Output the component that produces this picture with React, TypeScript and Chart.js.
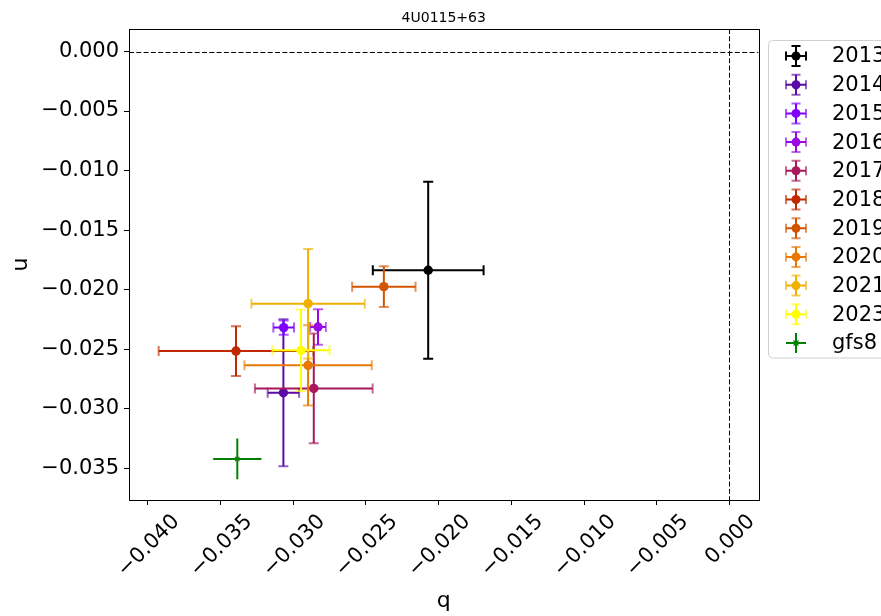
import React, { useEffect, useRef } from "react";
import { Chart, registerables } from "chart.js";

Chart.register(...registerables);

// ---------------- data ----------------
const chartTitle = "4U0115+63";
const xAxisLabel = "q";
const yAxisLabel = "u";

const seriesNames = ["2013", "2014", "2015", "2016", "2017", "2018", "2019", "2020", "2021", "2023", "gfs8"];
const qValues = [-0.02072, -0.03068, -0.03066, -0.0283, -0.02859, -0.03394, -0.02377, -0.02898, -0.02898, -0.02947, -0.03385];
const uValues = [-0.01837, -0.02866, -0.02319, -0.02314, -0.0283, -0.02516, -0.01975, -0.02636, -0.02118, -0.0251, -0.03422];
const qErrors = [0.00381, 0.00108, 0.00071, 0.00054, 0.00405, 0.00532, 0.00218, 0.00438, 0.0039, 0.00197, 0.00166];
const uErrors = [0.00743, 0.00617, 0.00059, 0.00149, 0.00461, 0.00209, 0.00171, 0.00337, 0.0046, 0.00342, 0.00171];
const seriesColors = [
  "#000000",
  "#5b0aa6",
  "#7f00ff",
  "#9a0ae2",
  "#a8185c",
  "#c02800",
  "#d35400",
  "#e87800",
  "#f0b000",
  "#ffff00",
  "#008000",
];
const seriesHasCaps = [true, true, true, true, true, true, true, true, true, true, false];

const xTickValues = [-0.04, -0.035, -0.03, -0.025, -0.02, -0.015, -0.01, -0.005, 0];
const xTickLabels = ["−0.040", "−0.035", "−0.030", "−0.025", "−0.020", "−0.015", "−0.010", "−0.005", "0.000"];
const yTickValues = [0, -0.005, -0.01, -0.015, -0.02, -0.025, -0.03, -0.035];
const yTickLabels = ["0.000", "−0.005", "−0.010", "−0.015", "−0.020", "−0.025", "−0.030", "−0.035"];

const xMin = -0.0413;
const xMax = 0.002;
const yMin = -0.03767;
const yMax = 0.00189;
const refLineQ = 0;
const refLineU = 0;

// ---------------- styling ----------------
const FONT = "'DejaVu Sans', sans-serif";
const W = 881;
const H = 616;
const CAP = 5;
const CAP_ALPHA = 0.65;

function withAlpha(hex: string, a: number) {
  const r = parseInt(hex.slice(1, 3), 16);
  const g = parseInt(hex.slice(3, 5), 16);
  const b = parseInt(hex.slice(5, 7), 16);
  return `rgba(${r},${g},${b},${a})`;
}

function drawErrorCross(
  ctx: CanvasRenderingContext2D,
  i: number,
  px: number,
  py: number,
  xl: number,
  xr: number,
  yt: number,
  yb: number,
  cap: number
) {
  const col = seriesColors[i];
  ctx.lineCap = "butt";
  ctx.lineWidth = 2;
  ctx.strokeStyle = col;
  ctx.beginPath();
  ctx.moveTo(xl, py);
  ctx.lineTo(xr, py);
  ctx.moveTo(px, yt);
  ctx.lineTo(px, yb);
  ctx.stroke();
  if (seriesHasCaps[i]) {
    ctx.strokeStyle = col === "#000000" ? col : withAlpha(col, CAP_ALPHA);
    ctx.beginPath();
    ctx.moveTo(xl, py - cap);
    ctx.lineTo(xl, py + cap);
    ctx.moveTo(xr, py - cap);
    ctx.lineTo(xr, py + cap);
    ctx.moveTo(px - cap, yt);
    ctx.lineTo(px + cap, yt);
    ctx.moveTo(px - cap, yb);
    ctx.lineTo(px + cap, yb);
    ctx.stroke();
  }
}

const errorBarPlugin = {
  id: "errorBars",
  beforeDatasetsDraw(chart: any) {
    const { ctx, chartArea: a, scales } = chart;
    const xs = scales.x;
    const ys = scales.y;
    ctx.save();
    ctx.beginPath();
    ctx.rect(a.left, a.top, a.right - a.left, a.bottom - a.top);
    ctx.clip();
    ctx.strokeStyle = "#000";
    ctx.lineWidth = 1;
    ctx.setLineDash([5, 2.3]);
    const y0 = Math.round(ys.getPixelForValue(refLineU)) + 0.5;
    ctx.beginPath();
    ctx.moveTo(a.left, y0);
    ctx.lineTo(a.right, y0);
    ctx.stroke();
    const x0 = Math.round(xs.getPixelForValue(refLineQ)) + 0.5;
    ctx.beginPath();
    ctx.moveTo(x0, a.top);
    ctx.lineTo(x0, a.bottom);
    ctx.stroke();
    ctx.restore();
  },
  beforeDatasetDraw(chart: any, args: any) {
    const i = args.index;
    const { ctx, chartArea: a, scales } = chart;
    const xs = scales.x;
    const ys = scales.y;
    const q = qValues[i];
    const u = uValues[i];
    const px = xs.getPixelForValue(q);
    const py = ys.getPixelForValue(u);
    const xl = xs.getPixelForValue(q - qErrors[i]);
    const xr = xs.getPixelForValue(q + qErrors[i]);
    const yt = ys.getPixelForValue(u + uErrors[i]);
    const yb = ys.getPixelForValue(u - uErrors[i]);
    ctx.save();
    ctx.beginPath();
    ctx.rect(a.left, a.top, a.right - a.left, a.bottom - a.top);
    ctx.clip();
    drawErrorCross(ctx, i, px, py, xl, xr, yt, yb, CAP);
    ctx.restore();
  },
  afterDraw(chart: any) {
    const { ctx, chartArea: a, scales } = chart;
    const xs = scales.x;
    ctx.save();
    // frame
    ctx.strokeStyle = "#000";
    ctx.lineWidth = 1;
    ctx.setLineDash([]);
    ctx.strokeRect(Math.round(a.left) + 0.5, Math.round(a.top) + 0.5, Math.round(a.right - a.left), Math.round(a.bottom - a.top));

    // title
    ctx.fillStyle = "#000";
    ctx.font = `14px ${FONT}`;
    ctx.textAlign = "center";
    ctx.textBaseline = "alphabetic";
    ctx.fillText(chartTitle, (a.left + a.right) / 2, 21.5);

    // x tick labels rotated 45°
    ctx.font = `21px ${FONT}`;
    const th = 21 * 1.0;
    xTickValues.forEach((v, k) => {
      const lbl = xTickLabels[k];
      const w = ctx.measureText(lbl).width;
      const ext = (w + th) * Math.SQRT1_2;
      const cx = xs.getPixelForValue(v);
      const cy = a.bottom + 11 + ext / 2;
      ctx.save();
      ctx.translate(cx + 1, cy);
      ctx.rotate(-Math.PI / 4);
      ctx.textAlign = "center";
      ctx.textBaseline = "middle";
      ctx.fillText(lbl, 0, 0);
      ctx.restore();
    });

    // axis labels
    ctx.font = `22px ${FONT}`;
    ctx.textAlign = "center";
    ctx.textBaseline = "alphabetic";
    ctx.fillText(xAxisLabel, (a.left + a.right) / 2, 607);
    ctx.save();
    ctx.translate(27, (a.top + a.bottom) / 2);
    ctx.rotate(-Math.PI / 2);
    ctx.fillText(yAxisLabel, 0, 0);
    ctx.restore();

    // legend
    const lx = 768.5;
    const ly = 40.5;
    const rowH = 28.7;
    const firstY = 56;
    const lh = firstY - ly + rowH * (seriesNames.length - 1) + 15;
    ctx.fillStyle = "rgba(255,255,255,0.8)";
    ctx.strokeStyle = "#d0d0d0";
    ctx.lineWidth = 1;
    ctx.beginPath();
    const r = 4;
    const rw = 200;
    ctx.moveTo(lx + r, ly);
    ctx.lineTo(lx + rw, ly);
    ctx.lineTo(lx + rw, ly + lh);
    ctx.lineTo(lx + r, ly + lh);
    ctx.arcTo(lx, ly + lh, lx, ly + lh - r, r);
    ctx.lineTo(lx, ly + r);
    ctx.arcTo(lx, ly, lx + r, ly, r);
    ctx.closePath();
    ctx.fill();
    ctx.stroke();

    const hx = 796;
    seriesNames.forEach((name, i) => {
      const y = firstY + i * rowH;
      const col = seriesColors[i];
      drawErrorCross(ctx, i, hx, y, hx - 10, hx + 10, y - 10, y + 10, 4.5);
      if (seriesHasCaps[i]) {
        ctx.fillStyle = col;
        ctx.beginPath();
        ctx.arc(hx, y, 4.5, 0, Math.PI * 2);
        ctx.fill();
      } else {
        ctx.strokeStyle = col;
        ctx.lineWidth = 1.2;
        ctx.beginPath();
        ctx.moveTo(hx - 2.5, y - 2.5);
        ctx.lineTo(hx + 2.5, y + 2.5);
        ctx.moveTo(hx - 2.5, y + 2.5);
        ctx.lineTo(hx + 2.5, y - 2.5);
        ctx.stroke();
      }
      ctx.fillStyle = "#000";
      ctx.font = `21px ${FONT}`;
      ctx.textAlign = "left";
      ctx.textBaseline = "middle";
      ctx.fillText(name, 832, y + 1);
    });
    ctx.restore();
  },
};

export default function App() {
  const ref = useRef<HTMLCanvasElement | null>(null);
  useEffect(() => {
    if (!ref.current) return;
    const n = seriesNames.length;
    const datasets = seriesNames.map((name, i) => ({
      label: name,
      data: [{ x: qValues[i], y: uValues[i] }],
      backgroundColor: seriesColors[i],
      borderColor: seriesColors[i],
      pointStyle: seriesHasCaps[i] ? "circle" : "crossRot",
      pointRadius: seriesHasCaps[i] ? 4.7 : 3,
      pointBorderWidth: seriesHasCaps[i] ? 0 : 1.2,
      order: n - i,
    }));
    const chart = new Chart(ref.current, {
      type: "scatter",
      data: { datasets } as any,
      options: {
        animation: false,
        responsive: false,
        devicePixelRatio: 1,
        layout: { padding: { top: 29, right: 122.5, left: 0, bottom: 0 } },
        plugins: { legend: { display: false }, tooltip: { enabled: false }, title: { display: false } },
        scales: {
          x: {
            type: "linear",
            min: xMin,
            max: xMax,
            afterBuildTicks: (s: any) => {
              s.ticks = xTickValues.map((v) => ({ value: v }));
            },
            afterFit: (s: any) => {
              s.height = H - 500;
            },
            ticks: { display: false, autoSkip: false },
            grid: { display: true, drawOnChartArea: false, drawTicks: true, tickLength: 5, color: "#000", lineWidth: 1 },
            border: { display: true, color: "#000", width: 1 },
          },
          y: {
            type: "linear",
            min: yMin,
            max: yMax,
            afterBuildTicks: (s: any) => {
              s.ticks = yTickValues.map((v) => ({ value: v }));
            },
            afterFit: (s: any) => {
              s.width = 129;
            },
            ticks: {
              autoSkip: false,
              padding: 5,
              color: "#000",
              font: { family: FONT, size: 21 },
              callback: (_v: any, idx: number) => yTickLabels[idx],
            },
            grid: { display: true, drawOnChartArea: false, drawTicks: true, tickLength: 5, color: "#000", lineWidth: 1 },
            border: { display: true, color: "#000", width: 1 },
          },
        },
      },
      plugins: [errorBarPlugin],
    } as any);
    return () => chart.destroy();
  }, []);
  return (
    <div style={{ position: "fixed", left: 0, top: 0, width: W, height: H, background: "#fff" }}>
      <canvas ref={ref} width={W} height={H} style={{ width: W, height: H, display: "block" }} />
    </div>
  );
}
